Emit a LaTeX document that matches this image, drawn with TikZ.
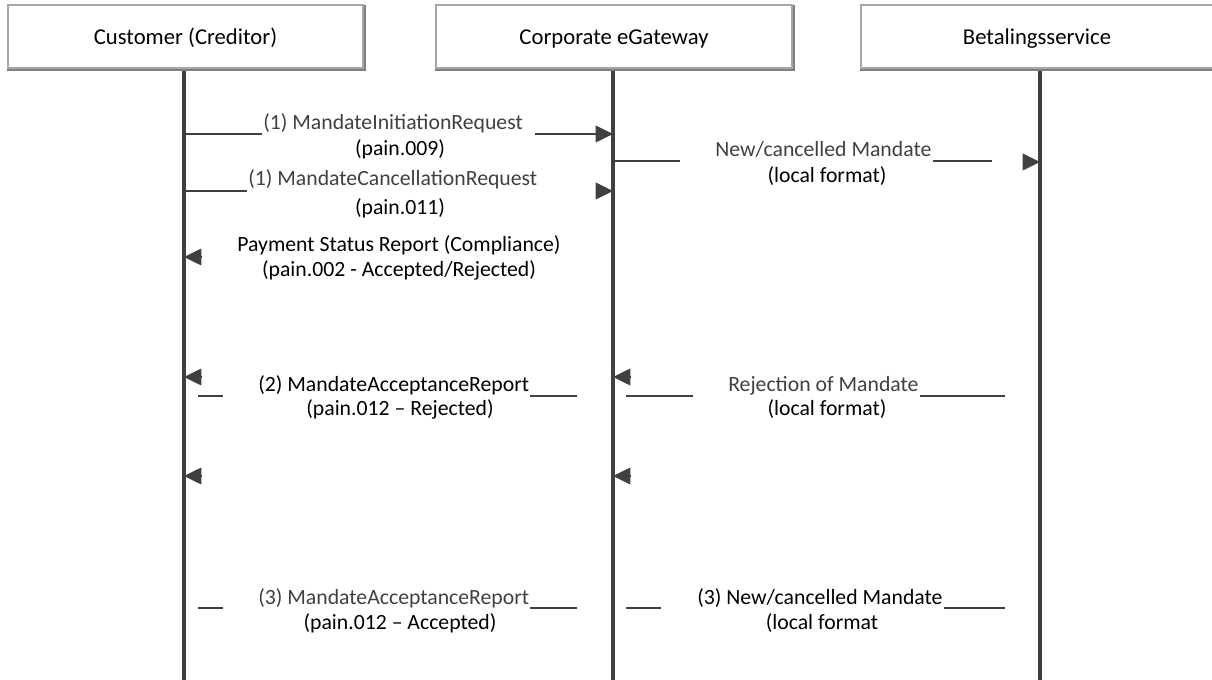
\documentclass[tikz,border=0pt]{standalone}
\usepackage{fontspec}
\setmainfont{Carlito}
\usetikzlibrary{arrows.meta}
\definecolor{lnc}{HTML}{404040}
\definecolor{gtxt}{HTML}{404040}
\definecolor{bordc}{HTML}{A6A6A6}
\definecolor{shadc}{HTML}{7F7F7F}
\begin{document}
\begin{tikzpicture}[x=0.75pt,y=-0.75pt,
  every node/.style={font=\fontsize{16.3}{19.5}\selectfont, inner sep=0pt},
  boxst/.style={draw=bordc, line width=0.9pt, fill=white, minimum height=47.25pt,
    font=\fontsize{17}{20}\selectfont, text height=12.5pt, text depth=0.5pt},
  shad/.style={draw=shadc, line width=1.3pt},
  life/.style={draw=lnc, line width=2.3pt},
  msg/.style={draw=lnc, line width=1.1pt},
  arr/.style={draw=lnc, fill=lnc, line width=1.1pt, -{Triangle[length=13pt,width=12.5pt]}},
  gt/.style={text=gtxt, anchor=base},
  bt/.style={text=black, anchor=base},
  gtw/.style={text=gtxt, anchor=base west},
  btw/.style={text=black, anchor=base west}
]
\useasboundingbox (0,0) rectangle (1212,680);

% lifelines
\coordinate (l1t) at (184,68);  \coordinate (l1b) at (184,682);
\coordinate (l2t) at (613,68);  \coordinate (l2b) at (613,682);
\coordinate (l3t) at (1040,68); \coordinate (l3b) at (1040,682);
\draw[life] (l1t) -- (l1b);
\draw[life] (l2t) -- (l2b);
\draw[life] (l3t) -- (l3b);

% boxes
\node[boxst, minimum width=266.25pt] (cust) at (185.5,36.5) {Customer (Creditor)};
\node[boxst, minimum width=267pt] (gate) at (614,36.5) {Corporate eGateway};
\node[boxst, minimum width=264pt] (bs) at (1037,36.5) {Betalingsservice};
\foreach \b in {cust,gate,bs}{
  \draw[shad] ([shift={(1.2,0.5)}]\b.north east) -- ([shift={(1.2,1.2)}]\b.south east) -- ([shift={(0,1.2)}]\b.south west);
}

% (1) MandateInitiationRequest
\draw[msg] (184,134) -- (262,134);
\node[gtw] (m1t) at (263,130) {(1) MandateInitiationRequest};
\draw[arr] (535,134) -- (613,134);
\node[bt] (m1p) at (400,156) {(pain.009)};

% (1) MandateCancellationRequest
\draw[msg] (184,191) -- (247,191);
\node[gtw] (m2t) at (248,186) {(1) MandateCancellationRequest};
\draw[arr] (596,191) -- (613,191);
\node[bt] (m2p) at (400,215) {(pain.011)};

% Payment Status Report
\draw[arr] (201,257) -- (184,257);
\node[bt] (m3t) at (399,252) {Payment Status Report (Compliance)};
\node[bt] (m3p) at (399,277) {(pain.002 - Accepted/Rejected)};

% Gateway -> Betalingsservice
\draw[msg] (613,161) -- (680,161);
\node[gtw] (g1t) at (715,157) {New/cancelled Mandate};
\draw[msg] ([shift={(1,4)}]g1t.base east) -- (992,161);
\draw[arr] (1023,162) -- (1040,162);
\node[bt] (g1p) at (827,183) {(local format)};

% group 2
\draw[arr] (201,377) -- (184,377);
\draw[arr] (630,377) -- (613,377);
\draw[msg] (198,396) -- (223,396);
\node[btw] (m4t) at (258,392) {(2) MandateAcceptanceReport};
\draw[msg] ([shift={(1,4)}]m4t.base east) -- (577,396);
\node[bt] (m4p) at (400,415) {(pain.012 -- Rejected)};
\draw[msg] (626,396) -- (693,396);
\node[gtw] (g2t) at (728,392) {Rejection of Mandate};
\draw[msg] ([shift={(1,4)}]g2t.base east) -- (1005,396);
\node[bt] (g2p) at (827,415) {(local format)};

% group 3
\draw[arr] (201,476) -- (184,476);
\draw[arr] (630,476) -- (613,476);
\draw[msg] (198,608) -- (223,608);
\node[gtw] (m5t) at (258,604) {(3) MandateAcceptanceReport};
\draw[msg] ([shift={(1,4)}]m5t.base east) -- (577,608);
\node[bt] (m5p) at (400,629) {(pain.012 -- Accepted)};
\draw[msg] (626,608) -- (661,608);
\node[btw] (g3t) at (697,604) {(3) New/cancelled Mandate};
\draw[msg] ([shift={(1,4)}]g3t.base east) -- (1005,608);
\node[bt] (g3p) at (822,629) {(local format};
\end{tikzpicture}
\end{document}
